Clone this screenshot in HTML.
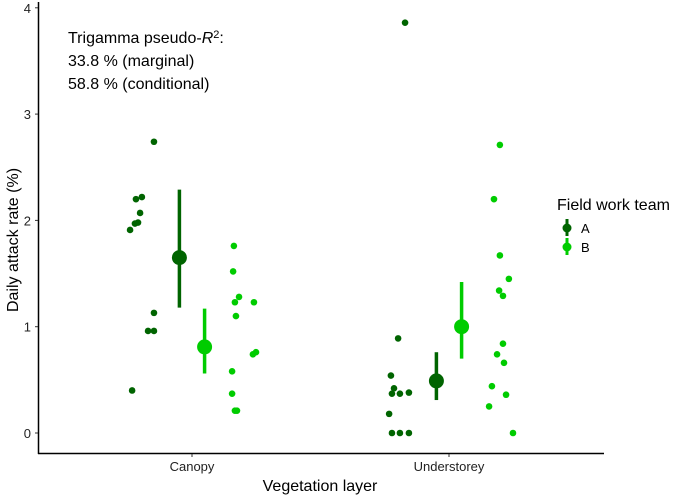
<!DOCTYPE html>
<html><head><meta charset="utf-8"><style>
body{margin:0;background:#fff}
svg{display:block;font-family:"Liberation Sans","DejaVu Sans",sans-serif}
</style></head><body>
<svg id="chart" width="685" height="497" viewBox="0 0 685 497" xmlns="http://www.w3.org/2000/svg">
<g id="plot"></g>
<text x="68" y="43" font-size="16" fill="#000">Trigamma pseudo-<tspan font-style="italic">R</tspan><tspan font-size="11" dy="-5">2</tspan><tspan dy="5">:</tspan></text>
<text x="68" y="66" font-size="16" fill="#000">33.8 % (marginal)</text>
<text x="68" y="89" font-size="16" fill="#000">58.8 % (conditional)</text>
<text transform="translate(18,240) rotate(-90)" text-anchor="middle" font-size="16">Daily attack rate (%)</text>
<text x="320" y="491" text-anchor="middle" font-size="16">Vegetation layer</text>
<g>
<text x="557" y="210" font-size="16">Field work team</text>
<g><line x1="567" y1="219" x2="567" y2="236" stroke="#006400" stroke-width="3"/><circle cx="567" cy="228" r="4.5" fill="#006400"/><text x="581" y="233" font-size="13">A</text></g>
<g><line x1="567" y1="238" x2="567" y2="255" stroke="#00cc00" stroke-width="3"/><circle cx="567" cy="247" r="4.5" fill="#00cc00"/><text x="581" y="252" font-size="13">B</text></g>
</g>
</svg>
<script>
const categories = ["Canopy", "Understorey"];
const teams = ["A", "B"];
const yTicks = [0, 1, 2, 3, 4];
// raw observations: value and jittered x (in category units)
const canopyA = [2.74, 2.2, 2.22, 2.07, 1.97, 1.98, 1.91, 1.13, 0.96, 0.96, 0.4];
const canopyAJit = [-0.148, -0.218, -0.195, -0.202, -0.222, -0.21, -0.241, -0.148, -0.171, -0.148, -0.233];
const canopyB = [1.76, 1.52, 1.28, 1.23, 1.23, 1.1, 0.74, 0.76, 0.58, 0.37, 0.21, 0.21];
const canopyBJit = [0.163, 0.16, 0.183, 0.167, 0.241, 0.171, 0.237, 0.249, 0.156, 0.156, 0.167, 0.175];
const underA = [3.86, 0.89, 0.54, 0.42, 0.37, 0.37, 0.38, 0.18, 0, 0, 0];
const underAJit = [-0.171, -0.198, -0.226, -0.214, -0.222, -0.191, -0.156, -0.233, -0.222, -0.191, -0.156];
const underB = [2.71, 2.2, 1.67, 1.45, 1.34, 1.29, 0.84, 0.74, 0.66, 0.44, 0.36, 0.25, 0];
const underBJit = [0.198, 0.175, 0.198, 0.233, 0.195, 0.21, 0.21, 0.187, 0.214, 0.167, 0.222, 0.156, 0.249];
// model estimates
const meanA = [1.65, 0.49];
const lowA = [1.18, 0.31];
const highA = [2.29, 0.76];
const meanB = [0.81, 1.0];
const lowB = [0.56, 0.70];
const highB = [1.17, 1.42];

const colors = {A: "#006400", B: "#00cc00"};
const NS = "http://www.w3.org/2000/svg";
const plot = document.getElementById("plot");
const y = v => 433 - v * 106.3;
const x = c => 192 + c * 257;
const dodge = 0.049;
function mk(tag, attrs) {
  const e = document.createElementNS(NS, tag);
  for (const k in attrs) e.setAttribute(k, attrs[k]);
  plot.appendChild(e);
  return e;
}
// axes
let ax = mk("line", {x1: 38.5, y1: 2, x2: 38.5, y2: 454, stroke: "#000", "stroke-width": 1.5});


ax = mk("line", {x1: 38, y1: 453.5, x2: 604, y2: 453.5, stroke: "#000", "stroke-width": 1.5});


yTicks.forEach(t => {
  const l = mk("line", {x1: 35, x2: 38, y1: y(t), y2: y(t), stroke: "#333", "stroke-width": 1});
  
  
  const tx = mk("text", {x: 31, y: y(t) + 5, "text-anchor": "end", "font-size": 13, fill: "#222"});
  tx.textContent = t;
  
  
});
categories.forEach((c, i) => {
  const l = mk("line", {x1: x(i), x2: x(i), y1: 454, y2: 457, stroke: "#333", "stroke-width": 1});
  
  
  const tx = mk("text", {x: x(i), y: 471, "text-anchor": "middle", "font-size": 13, fill: "#222"});
  tx.textContent = c;
  
  
});
function pts(vals, jit, cat, col) {
  vals.forEach((v, k) => {
    const c = mk("circle", {cx: x(cat + jit[k]), cy: y(v), r: 3.3, fill: col});
    
    
  });
}
pts(canopyA, canopyAJit, 0, colors.A);
pts(canopyB, canopyBJit, 0, colors.B);
pts(underA, underAJit, 1, colors.A);
pts(underB, underBJit, 1, colors.B);
function est(mean, lo, hi, off, col) {
  mean.forEach((m, i) => {
    const cx = x(i + off);
    const l = mk("line", {x1: cx, x2: cx, y1: y(lo[i]), y2: y(hi[i]), stroke: col, "stroke-width": 3.5});
    
    
    const c = mk("circle", {cx: cx, cy: y(m), r: 7.5, fill: col});
    
    
  });
}
est(meanA, lowA, highA, -dodge, colors.A);
est(meanB, lowB, highB, dodge, colors.B);
</script>
</body></html>
